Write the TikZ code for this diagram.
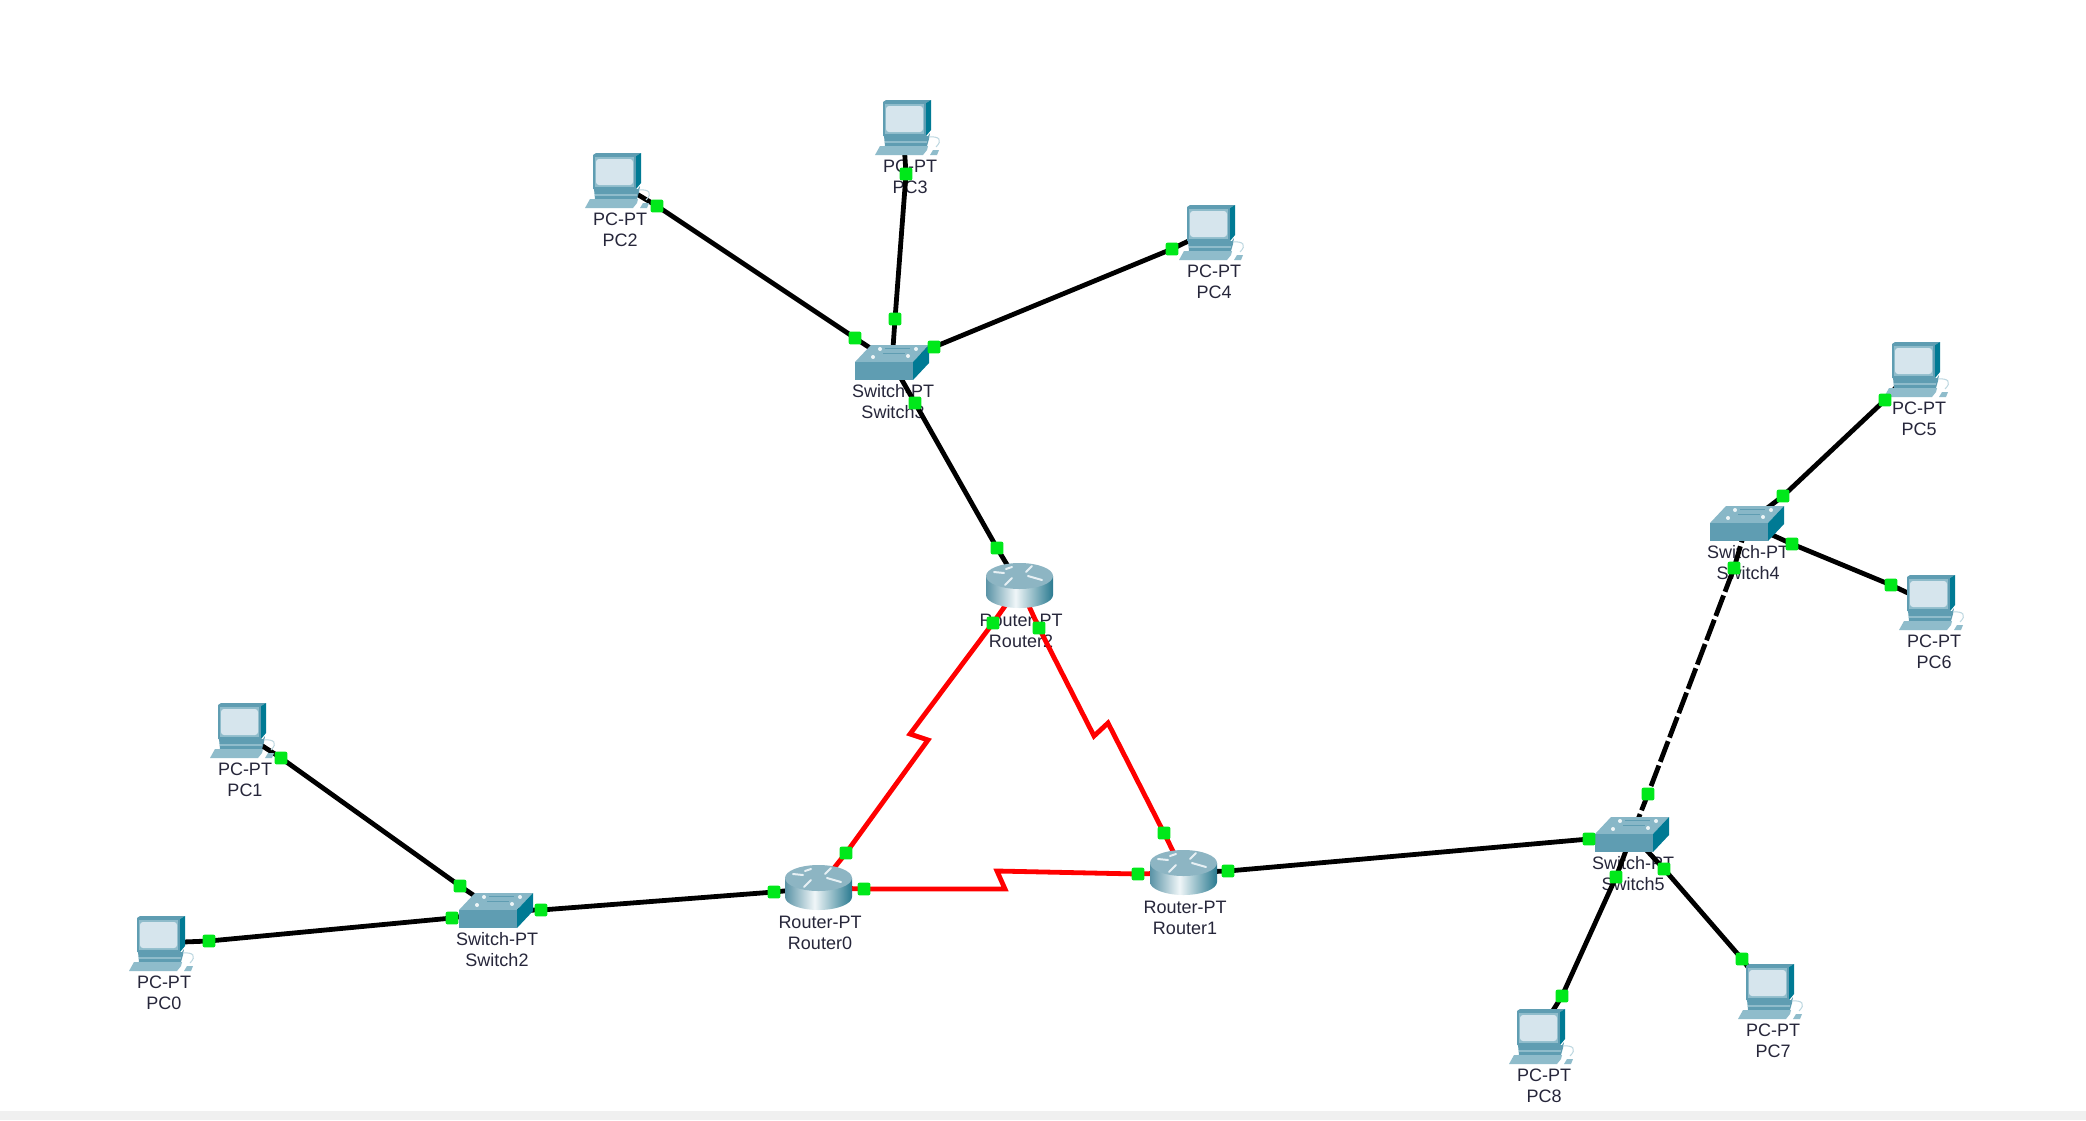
\documentclass[tikz,border=0pt]{standalone}
\usepackage{fontspec}
\setmainfont{Liberation Sans}
\pgfdeclarelayer{labels}
\pgfdeclarelayer{icons}
\pgfsetlayers{labels,main,icons}
\definecolor{cdark}{HTML}{007A94}
\definecolor{cmid}{HTML}{5F9DB2}
\definecolor{clight}{HTML}{8FBCCB}
\definecolor{cscreen}{HTML}{D6E5ED}
\definecolor{cgreen}{HTML}{00E81A}
\definecolor{ctext}{HTML}{26263A}
\definecolor{rleft}{HTML}{5A93A6}
\definecolor{rpale}{HTML}{F0F6F8}
\definecolor{rright}{HTML}{2A7A90}
\definecolor{rtop}{HTML}{8DB5C3}
\pgfdeclarehorizontalshading{routerbody}{100bp}{color(0bp)=(rleft); color(25bp)=(rleft); color(47bp)=(rpale); color(75bp)=(rright); color(100bp)=(rright)}
\tikzset{
  x=0.5pt,y=-0.5pt,
  lbl/.style={align=center,inner sep=0,text=ctext,font=\fontsize{9}{10.5}\selectfont},
  box/.style={inner sep=0,minimum width=#1},
  port/.style={rectangle,rounded corners=1pt,fill=cgreen,minimum size=6.4pt,inner sep=0},
  cable/.style={line width=2.4pt,black},
  dashcable/.style={cable,dash pattern=on 11pt off 2pt},
  serial/.style={line width=2.4pt,red,line join=miter},
  pics/pcicon/.style={code={
    \fill[cmid] (0,2) -- (3,0) -- (48,0) -- (43,3) -- (43,36) -- (0,36) -- cycle;
    \fill[cdark] (43,3) -- (48,0) -- (48,30) -- (43,36) -- cycle;
    \fill[clight] (2,4) rectangle (41,34);
    \fill[cscreen,rounded corners=1.5pt] (3,6) rectangle (40,32);
    \fill[cmid] (1,36) -- (45,36) -- (47,33) -- (46,39) -- (44,46) -- (2,46) -- cycle;
    \fill[clight] (2,41) rectangle (44,43);
    \fill[clight] (-3,46) -- (45,46) -- (44,50) -- (40,55) -- (-8,55) -- cycle;
    \fill[clight] (50,50) -- (56,50) -- (54,55) -- (47,55) -- cycle;
    \draw[clight!60,line width=0.5pt] (46,37) .. controls (56,36) and (60,40) .. (53,47);
  }},
  pics/routericon/.style={code={
    \shade[shading=routerbody]
      (0,13) -- (0,32) .. controls (0,39) and (15,45) .. (33.5,45) .. controls (52,45) and (67,39) .. (67,32) -- (67,13) -- cycle;
    \fill[rtop] (33.5,13) ellipse[x radius=33.5,y radius=13];
    \draw[white!85!cmid,line width=1pt,line cap=round]
      (8,9) -- (18,10) (20,6) -- (26,4) (40,9) -- (46,3) (42,13) -- (56,17) (26,15) -- (19,22);
  }},
  pics/switchicon/.style={code={
    \fill[clight!85!cmid] (16,0) -- (74,0) -- (58,17) -- (0,17) -- cycle;
    \fill[cmid] (0,17) rectangle (58,35);
    \fill[cdark] (58,17) -- (74,0) -- (74,18) -- (58,35) -- cycle;
    \fill[white!85!clight] (25,4) circle[radius=2] (61,4) circle[radius=2] (18,12) circle[radius=2] (53,11) circle[radius=2];
    \draw[cmid,line width=0.4pt] (28,8) -- (50,8) (30,3) -- (55,3);
  }}
}
% name, left, top, label
\newcommand{\pcdev}[4]{%
  \begin{scope}[shift={(#2,#3)}]
    \begin{pgfonlayer}{icons}\pic {pcicon};\end{pgfonlayer}
    \node[box=25pt,minimum height=27.5pt] (#1) at (20,27) {};
    \begin{pgfonlayer}{labels}\node[lbl] (#1t) at (27,76.5) {PC-PT\\#4};\end{pgfonlayer}
  \end{scope}}
\newcommand{\swdev}[4]{%
  \begin{scope}[shift={(#2,#3)}]
    \begin{pgfonlayer}{icons}\pic {switchicon};\end{pgfonlayer}
    \node[box=37pt,minimum height=17.5pt] (#1) at (37,17.5) {};
    \begin{pgfonlayer}{labels}\node[lbl] (#1t) at (38,57) {Switch-PT\\#4};\end{pgfonlayer}
  \end{scope}}
\newcommand{\rtdev}[4]{%
  \begin{scope}[shift={(#2,#3)}]
    \begin{pgfonlayer}{icons}\pic {routericon};\end{pgfonlayer}
    \node[box=33.5pt,minimum height=22.5pt] (#1) at (33.5,22.5) {};
    \begin{pgfonlayer}{labels}\node[lbl] (#1t) at (35,67.5) {Router-PT\\#4};\end{pgfonlayer}
  \end{scope}}
\newcommand{\portat}[3]{\begin{pgfonlayer}{icons}\node[port] (#1) at (#2,#3) {};\end{pgfonlayer}}
\begin{document}
\begin{tikzpicture}
\useasboundingbox (0,0) rectangle (2086,1120);
\begin{pgfonlayer}{labels}
\fill[white] (0,0) rectangle (2086,1120);
\fill[black!6] (0,1111) rectangle (2086,1120);
\end{pgfonlayer}
% devices
\pcdev{pcz}{137}{916}{PC0}
\pcdev{pca}{218}{703}{PC1}
\pcdev{pcb}{593}{153}{PC2}
\pcdev{pcc}{883}{100}{PC3}
\pcdev{pcd}{1187}{205}{PC4}
\pcdev{pce}{1892}{342}{PC5}
\pcdev{pcf}{1907}{575}{PC6}
\pcdev{pcg}{1746}{964}{PC7}
\pcdev{pch}{1517}{1009}{PC8}
\swdev{swc}{459}{893}{Switch2}
\swdev{swd}{855}{345}{Switch3}
\swdev{swe}{1710}{506}{Switch4}
\swdev{swf}{1595}{817}{Switch5}
\rtdev{rta}{785}{865}{Router0}
\rtdev{rtb}{1150}{850}{Router1}
\rtdev{rtc}{986}{563}{Router2}
% ports
\portat{p1}{657}{206}\portat{p2}{855}{338}
\portat{p3}{906}{174}\portat{p4}{895}{319}
\portat{p5}{1172}{249}\portat{p6}{934}{347}
\portat{p7}{915}{403}\portat{p8}{997}{548}
\portat{p9}{993}{623}\portat{p10}{846}{853}
\portat{p11}{1039}{628}\portat{p12}{1164}{833}
\portat{p13}{864}{889}\portat{p14}{1138}{874}
\portat{p15}{774}{892}\portat{p16}{541}{910}
\portat{p17}{460}{886}\portat{p18}{281}{758}
\portat{p19}{452}{918}\portat{p20}{209}{941}
\portat{p21}{1228}{871}\portat{p22}{1589}{839}
\portat{p23}{1648}{794}\portat{p24}{1734}{568}
\portat{p25}{1783}{496}\portat{p26}{1885}{400}
\portat{p27}{1792}{544}\portat{p28}{1891}{585}
\portat{p29}{1664}{869}\portat{p30}{1742}{959}
\portat{p31}{1616}{877}\portat{p32}{1562}{996}
% bends of the serial links
\coordinate (ka) at (928,740);
\coordinate (kb) at (910,734);
\coordinate (kc) at (1094,736);
\coordinate (kd) at (1108,723);
\coordinate (ke) at (1005,889);
\coordinate (kf) at (997,871);
% connectors
\draw[cable] (pcb.center) -- (p1.center) -- (p2.center) -- (swd.center);
\draw[cable] (pcc.center) -- (p3.center) -- (p4.center) -- (swd.center);
\draw[cable] (pcd.center) -- (p5.center) -- (p6.center) -- (swd.center);
\draw[cable] (swd.center) -- (p7.center) -- (p8.center) -- (rtc.center);
\draw[cable] (rta.center) -- (p15.center) -- (p16.center) -- (swc.center);
\draw[cable] (swc.center) -- (p17.center) -- (p18.center) -- (pca.center);
\draw[cable] (swc.center) -- (p19.center) -- (p20.center) -- (pcz.center);
\draw[cable] (rtb.center) -- (p21.center) -- (p22.center) -- (swf.center);
\draw[dashcable] (swf.center) -- (p23.center) -- (p24.center) -- (swe.center);
\draw[cable] (swe.center) -- (p25.center) -- (p26.center) -- (pce.center);
\draw[cable] (swe.center) -- (p27.center) -- (p28.center) -- (pcf.center);
\draw[cable] (swf.center) -- (p29.center) -- (p30.center) -- (pcg.center);
\draw[cable] (swf.center) -- (p31.center) -- (p32.center) -- (pch.center);
\draw[serial] (rta.center) -- (p10.center) -- (ka) -- (kb) -- (p9.center) -- (rtc.center);
\draw[serial] (rtc.center) -- (p11.center) -- (kc) -- (kd) -- (p12.center) -- (rtb.center);
\draw[serial] (rta.center) -- (p13.center) -- (ke) -- (kf) -- (p14.center) -- (rtb.center);
\end{tikzpicture}
\end{document}
